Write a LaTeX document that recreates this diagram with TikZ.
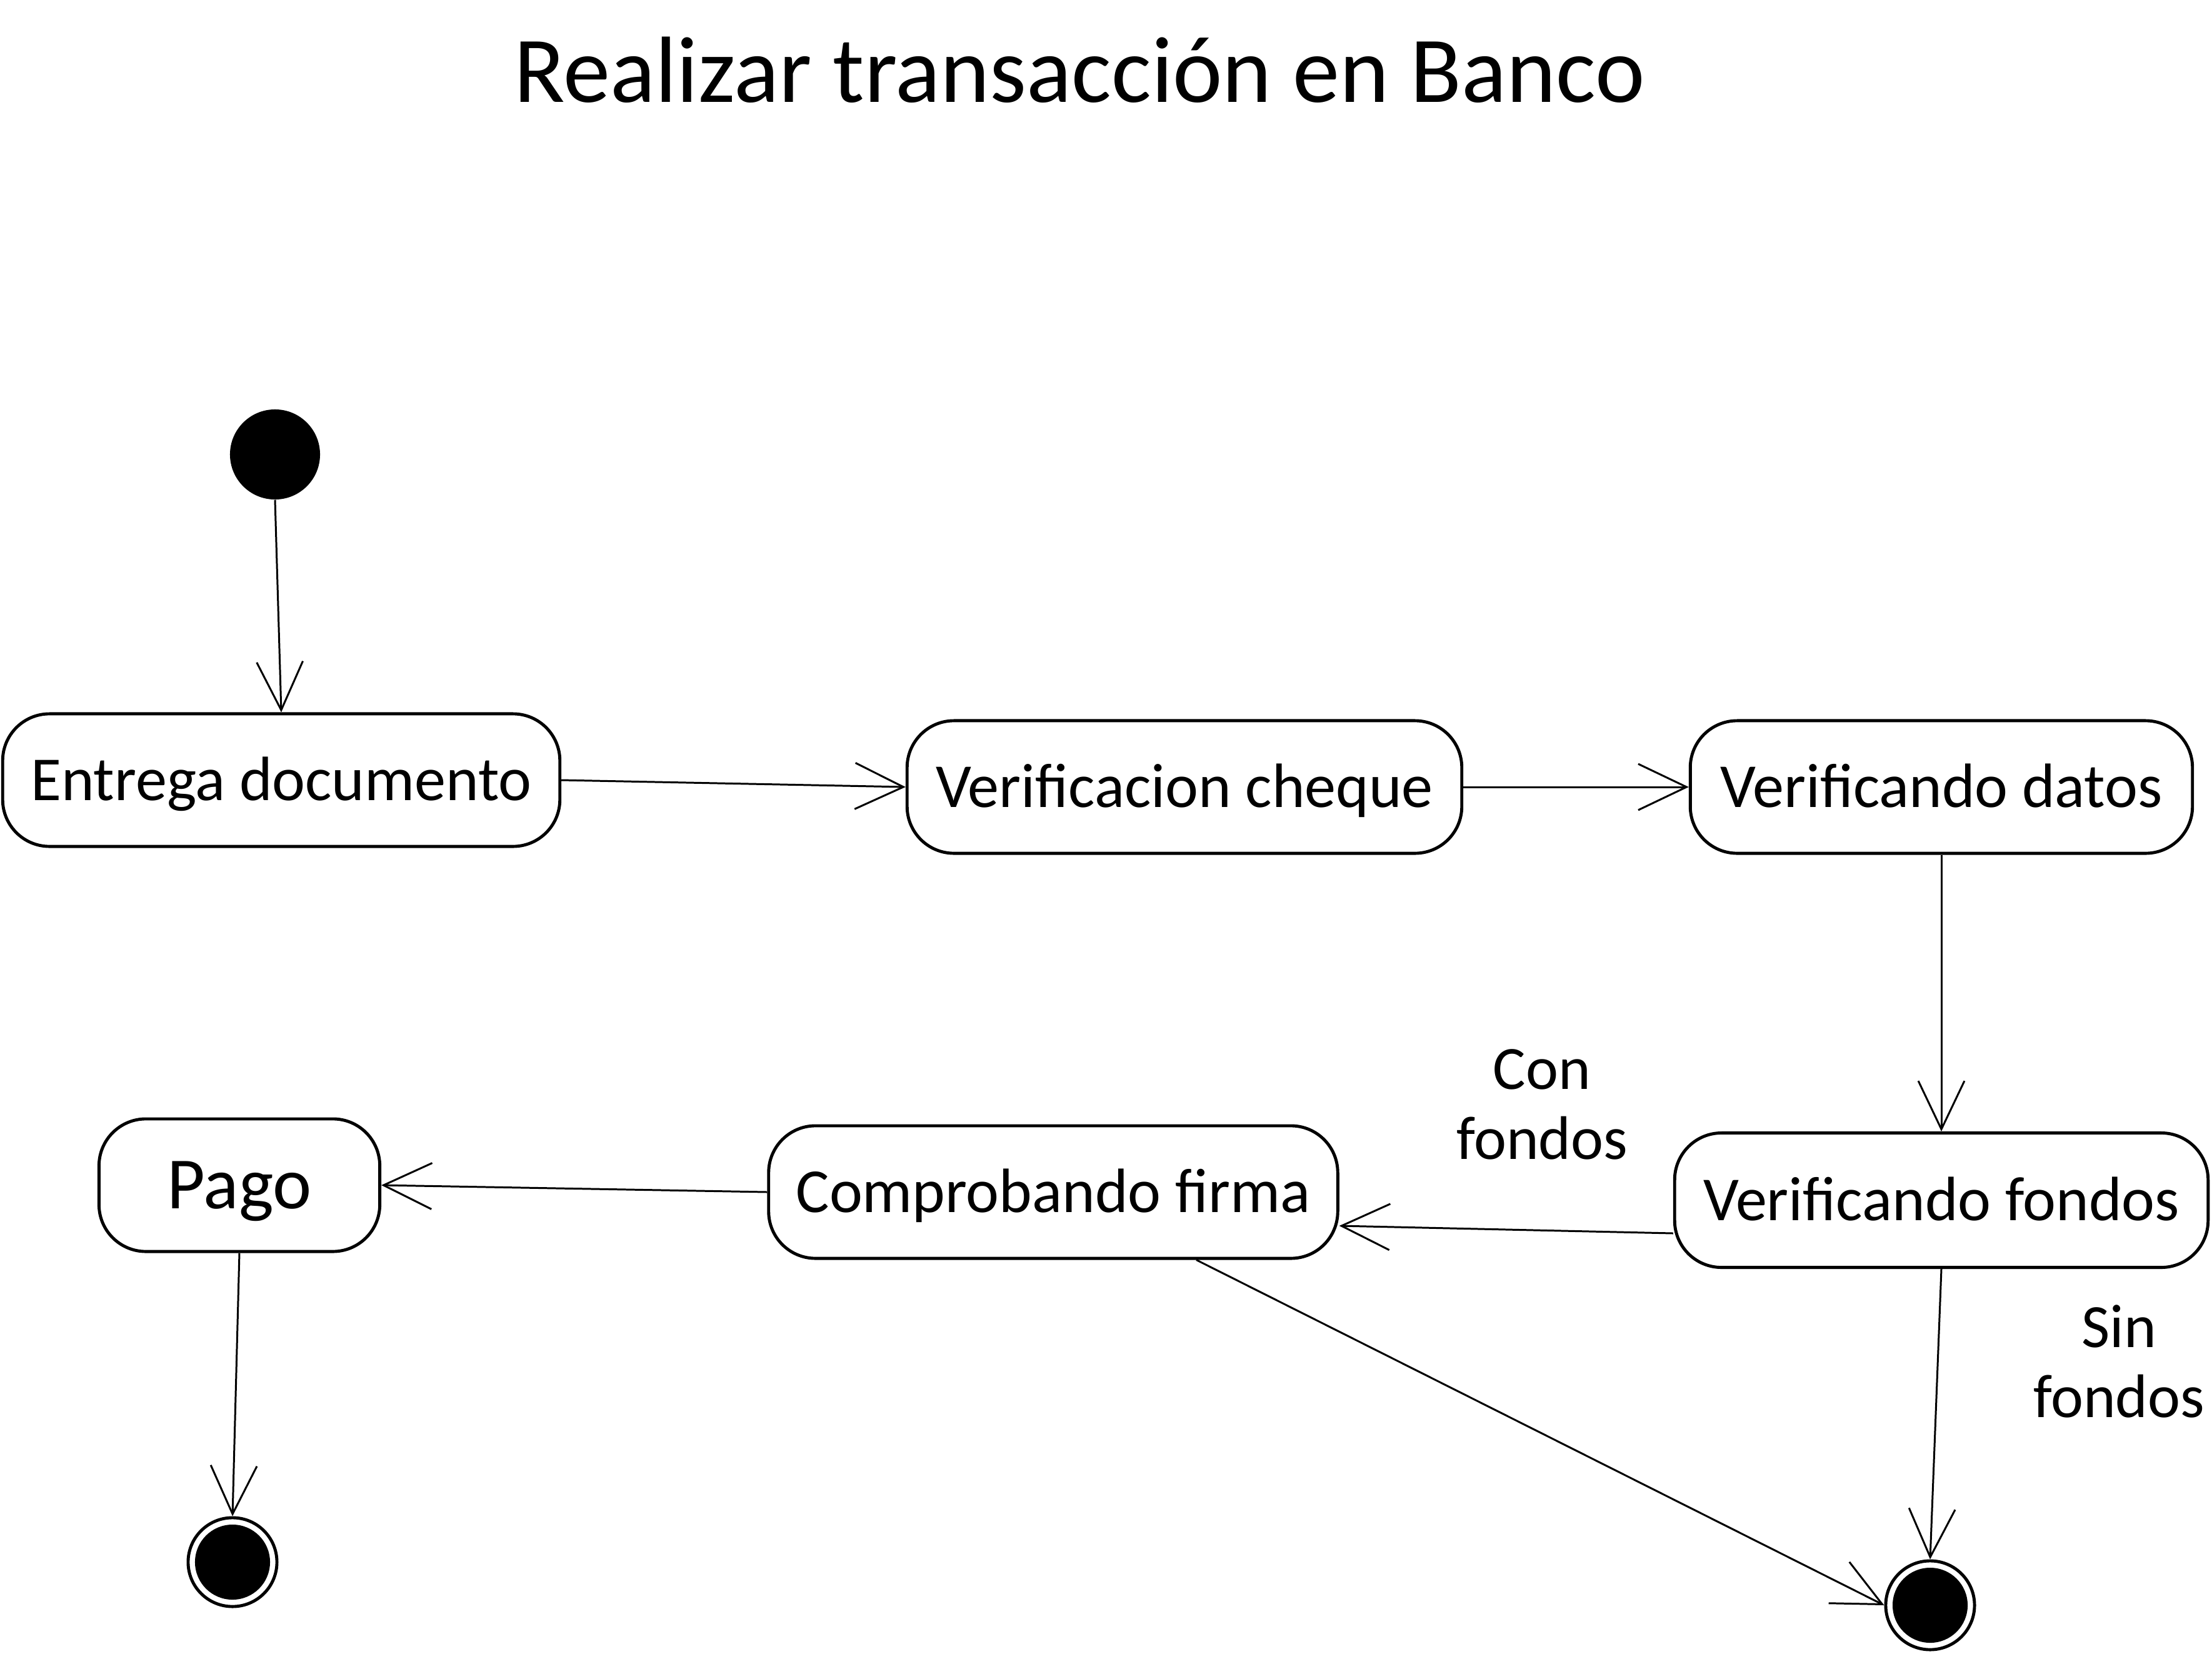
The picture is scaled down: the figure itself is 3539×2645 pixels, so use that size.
\documentclass[tikz,border=0pt]{standalone}
\usepackage{fontspec}
\setmainfont{Carlito}
\usetikzlibrary{arrows.meta,calc}
\begin{document}
\begin{tikzpicture}[x=0.01cm,y=-0.01cm,
  state/.style={draw, line width=1.4pt, rounded corners=0.75cm, inner sep=0pt,
    minimum height=2.12cm, font=\fontsize{28.5}{34}\selectfont,
    text height=18.3pt, text depth=0pt},
  conn/.style={line width=0.85pt, -{Straight Barb[length=22pt,width=21pt,line width=0.85pt]}},
  lbl/.style={align=center, font=\fontsize{28}{32}\selectfont},
  endst/.style={circle, draw, line width=1.4pt, minimum size=1.42cm, inner sep=0pt,
    path picture={\fill (path picture bounding box.center) circle (0.6cm);}}]
\useasboundingbox (0,0) rectangle (3539,2645);
\node[anchor=base, font=\fontsize{42.8}{50}\selectfont] (title) at (1727,163) {Realizar transacción en Banco};
\node[circle, fill, minimum size=1.44cm, inner sep=0pt] (start) at (440,727) {};
\node[state, minimum width=8.91cm] (ent) at (450,1248) {Entrega documento};
\node[state, minimum width=8.87cm] (vc) at (1895,1259) {Verificacion cheque};
\node[state, minimum width=8.03cm] (vd) at (3106,1259) {Verificando datos};
\node[state, minimum width=8.53cm, minimum height=2.15cm] (vf) at (3106,1920) {Verificando fondos};
\node[state, minimum width=9.10cm] (cf) at (1685,1907) {Comprobando firma};
\node[state, minimum width=4.49cm, font=\fontsize{33.5}{40}\selectfont, text height=21.5pt] (pago) at (383,1896) {Pago};
\node[endst] (end1) at (372,2499) {};
\node[endst] (end2) at (3088,2568) {};
\node[lbl] (con) at (2467,1767) {Con\\fondos};
\node[lbl] (sin) at (3390,2178) {Sin\\fondos};
\draw[conn] (start.south) -- (ent.north);
\draw[conn] (ent.east) -- (vc.west);
\draw[conn] (vc.east) -- (vd.west);
\draw[conn] (vd.south) -- (vf.north);
\draw[conn] ($(vf.west)+(0,53)$) -- ($(cf.east)+(0,54)$);
\draw[conn] (cf.west) -- (pago.east);
\draw[conn] (pago.south) -- (end1.north);
\draw[conn] ($(cf.south)+(229,0)$) -- (end2.west);
\draw[conn] (vf.south) -- (end2.north);
\end{tikzpicture}
\end{document}
